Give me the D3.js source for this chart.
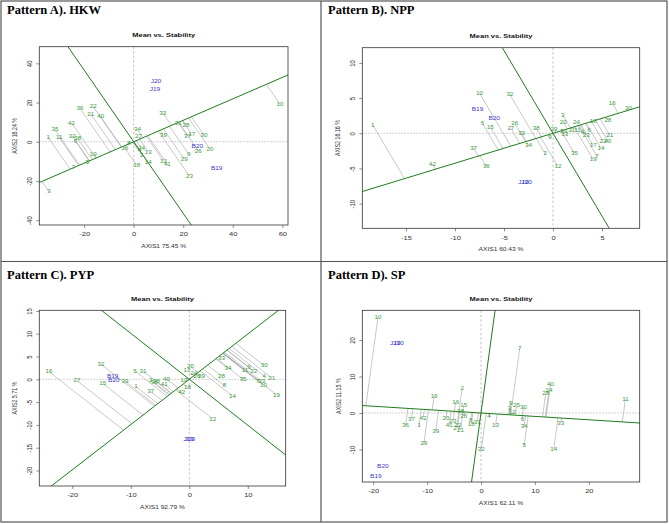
<!DOCTYPE html>
<html><head><meta charset="utf-8">
<script src="https://cdn.jsdelivr.net/npm/d3@7"></script>
<style>body{margin:0;background:#fff}svg{display:block}</style>
</head><body>
<svg id="c" width="669" height="524"></svg>
<script>
// ---------------- DATA ----------------
const panelTitles = ["Pattern A). HKW", "Pattern B). NPP", "Pattern C). PYP", "Pattern D). SP"];
const plotTitle = "Mean vs. Stability";
const xAxisTitles = ["AXIS1 75.45 %", "AXIS1 60.43 %", "AXIS1 92.79 %", "AXIS1 62.11 %"];
const yAxisTitles = ["AXIS2 16.24 %", "AXIS2 16.16 %", "AXIS2 5.71 %", "AXIS2 11.15 %"];

// Pattern A (HKW)
const hkwXTicks = [-20, 0, 20, 40, 60];
const hkwYTicks = [-40, -20, 0, 20, 40];
const hkwEnvLabels = ["J20", "J19", "B20", "B19"];
const hkwEnvX = [9.0, 8.6, 25.7, 33.5];
const hkwEnvY = [31.0, 26.7, -2.2, -13.5];
const hkwGenLabels = ["36","22","21","40","42","35","11","1","32","38","19","7","5","3","16","8","34","27","39","33","28","31","37","17","30","26","20","9","29","23","12","41","10","18","14","24","13","2","4","6"];
const hkwGenX = [-21.7,-16.3,-17.3,-13.3,-25.1,-31.8,-30.1,-34.5,-24.8,-22.6,-16.3,-24.4,-18.7,-34.2,-3.6,-1.9,1.5,1.9,12.0,11.7,21.1,18.0,21.7,23.4,28.4,26.1,30.8,22.2,20.4,22.5,12.0,13.6,59.1,1.2,5.9,3.2,5.9,3.2,2.3,-23.5];
const hkwGenY = [17.0,17.9,14.1,12.8,9.7,6.3,2.2,2.2,2.9,1.7,-6.3,-13.1,-10.7,-25.5,-3.4,-0.5,6.3,2.6,3.4,14.8,8.5,9.7,2.9,3.9,3.4,-4.6,-3.7,-6.3,-8.8,-17.5,-9.8,-11.4,19.1,-11.9,-10.7,-3.4,-5.1,-6.8,-4.5,0.4];

// Pattern B (NPP)
const nppXTicks = [-15, -10, -5, 0, 5];
const nppYTicks = [-10, -5, 0, 5, 10];
const nppEnvLabels = ["B19", "B20", "J19", "J20"];
const nppEnvX = [-7.7, -6.0, -3.0, -2.7];
const nppEnvY = [3.45, 2.1, -6.9, -6.9];
const nppGenLabels = ["1","10","32","5","15","26","27","33","38","34","2","12","37","42","36","29","39","9","3","20","24","31","11","13","4","6","18","28","16","30","21","22","40","17","14","7","19","35","23"];
const nppGenX = [-18.4,-7.5,-4.4,-7.2,-6.4,-3.9,-4.3,-3.2,-1.7,-2.5,-0.8,0.5,-8.1,-12.3,-6.8,0.1,1.1,-0.3,1.0,1.05,2.4,1.9,2.5,1.2,3.0,3.7,4.1,5.6,6.05,7.7,5.8,5.1,5.6,4.1,4.9,4.5,4.1,2.2,3.4];
const nppGenY = [1.2,5.7,5.5,1.4,0.9,1.4,0.7,0.0,0.7,-1.7,-2.9,-4.7,-2.1,-4.4,-4.7,0.6,0.3,-0.6,2.6,1.56,1.56,0.5,0.4,-0.2,0.1,0.5,1.65,1.9,4.26,3.55,-0.3,-1.1,-1.1,-1.7,-2.1,-3.3,-3.7,-2.9,-0.3];

// Pattern C (PYP)
const pypXTicks = [-20, -10, 0, 10];
const pypYTicks = [-20, -15, -10, -5, 0, 5, 10, 15];
const pypEnvLabels = ["B19", "B20", "J19", "J20"];
const pypEnvX = [-13.1, -12.9, -0.1, 0.1];
const pypEnvY = [0.7, -0.2, -13.1, -13.2];
const pypGenLabels = ["16","27","32","15","39","5","31","1","37","36","2","38","41","40","42","18","13","20","17","24","26","29","28","8","14","12","33","34","35","11","9","22","30","4","21","7","23","10","19"];
const pypGenX = [-24.0,-19.2,-15.1,-14.8,-11.0,-9.3,-7.9,-9.1,-6.6,-6.0,-6.6,-5.6,-4.3,-3.9,-1.3,-0.3,-0.9,0.2,-0.4,0.8,1.3,2.1,5.5,6.0,7.4,4.0,5.5,6.6,9.2,9.5,10.2,11.0,12.8,12.8,14.1,11.7,12.4,12.7,14.9];
const pypGenY = [1.7,-0.3,3.3,-0.9,-0.4,1.8,1.8,-1.6,-2.7,-0.7,-0.3,-0.5,-1.1,0.1,-2.9,-1.8,-0.2,2.8,2.0,1.3,0.7,0.6,0.7,-1.4,-3.7,-8.7,4.7,2.4,0.0,2.0,2.6,1.8,3.0,0.7,0.3,-0.4,-0.5,-1.2,-3.4];

// Pattern D (SP)
const spXTicks = [-20, -10, 0, 10, 20];
const spYTicks = [-10, 0, 10, 20];
const spEnvLabels = ["J19", "J20", "B20", "B19"];
const spEnvX = [-15.9, -15.3, -18.2, -19.5];
const spEnvY = [19.2, 19.0, -14.5, -17.3];
const spGenLabels = ["10","7","2","40","24","28","11","19","16","15","38","26","9","25","30","12","3","6","34","5","33","14","13","4","32","8","18","31","20","23","41","22","27","21","39","29","42","1","37","36"];
const spGenX = [-19.1,7.2,-3.5,12.9,12.6,12.0,26.8,-8.7,-4.7,-3.2,-3.8,-3.2,5.5,6.6,7.9,5.8,5.3,7.7,8.0,8.0,14.8,13.5,2.7,1.5,0.06,-1.9,-1.8,-0.7,-6.5,-5.2,-5.9,-4.3,-4.5,-3.8,-8.4,-10.6,-10.7,-11.5,-12.9,-14.0];
const spGenY = [26.3,17.8,6.8,7.8,6.2,5.3,3.9,4.6,3.0,2.1,0.5,-0.9,2.8,2.1,1.6,0.3,1.4,-1.6,-3.6,-8.9,-2.7,-9.9,-3.4,-0.9,-9.9,-2.0,-3.1,-2.5,-1.4,-2.2,-3.4,-3.4,-4.1,-4.7,-5.0,-8.4,-1.3,-3.4,-1.6,-3.4];

// ---------------- LAYOUT ----------------
const panels = [
  {title: panelTitles[0], tx: 7, ty: 14, box: [39.3, 46.7, 288, 225], xd: [-38.1, 62.3], yd: [-42.5, 48.5],
   xt: hkwXTicks, yt: hkwYTicks, el: hkwEnvLabels, ex: hkwEnvX, ey: hkwEnvY, gl: hkwGenLabels, gx: hkwGenX, gy: hkwGenY,
   xlab: xAxisTitles[0], ylab: yAxisTitles[0], ylabX: 15},
  {title: panelTitles[1], tx: 328, ty: 14, box: [362.3, 47.7, 639.7, 228.3], xd: [-19.46, 8.85], yd: [-13.5, 12.16],
   xt: nppXTicks, yt: nppYTicks, el: nppEnvLabels, ex: nppEnvX, ey: nppEnvY, gl: nppGenLabels, gx: nppGenX, gy: nppGenY,
   xlab: xAxisTitles[1], ylab: yAxisTitles[1], ylabX: 338},
  {title: panelTitles[2], tx: 7, ty: 278.5, box: [39.3, 310.3, 285.7, 486], xd: [-25.64, 16.48], yd: [-23.4, 15.13],
   xt: pypXTicks, yt: pypYTicks, el: pypEnvLabels, ex: pypEnvX, ey: pypEnvY, gl: pypGenLabels, gx: pypGenX, gy: pypGenY,
   xlab: xAxisTitles[2], ylab: yAxisTitles[2], ylabX: 15},
  {title: panelTitles[3], tx: 328, ty: 278.5, box: [362.3, 310.3, 639.7, 482], xd: [-22.02, 29.44], yd: [-18.9, 28.14],
   xt: spXTicks, yt: spYTicks, el: spEnvLabels, ex: spEnvX, ey: spEnvY, gl: spGenLabels, gx: spGenX, gy: spGenY,
   xlab: xAxisTitles[3], ylab: yAxisTitles[3], ylabX: 339}
];

const SX = 1.25;                 // horizontal stretch of the source picture
const SANS = "'Liberation Sans', Arial, sans-serif";
const SERIF = "'Liberation Serif', 'Times New Roman', serif";
const GEN_COL = "#3d9a3d", ENV_COL = "#3a3ac8", LINE_COL = "#1d7d1d", PROJ_COL = "#9a9a9a";

const svg = d3.select("#c");
svg.append("rect").attr("width", 669).attr("height", 524).attr("fill", "#fff");

// frame
const frame = svg.append("g").attr("stroke", "#555").attr("stroke-width", 1.2).attr("fill", "none");
frame.append("rect").attr("x", 1).attr("y", 1).attr("width", 666).attr("height", 521);
frame.append("line").attr("x1", 321).attr("x2", 321).attr("y1", 1).attr("y2", 522);
frame.append("line").attr("x1", 1).attr("x2", 667).attr("y1", 261.5).attr("y2", 261.5);

function stext(g, x, y, s, size, fill, weight, anchor) {
  return g.append("text")
    .attr("transform", `translate(${x},${y}) scale(${SX},1)`)
    .attr("text-anchor", anchor || "middle")
    .attr("font-family", SANS).attr("font-size", size)
    .attr("font-weight", weight || "normal")
    .attr("fill", fill).text(s);
}

panels.forEach((p, i) => {
  const [x0, y0, x1, y1] = p.box;
  const g = svg.append("g");
  const xs = d3.scaleLinear().domain(p.xd).range([x0, x1]);
  const ys = d3.scaleLinear().domain(p.yd).range([y1, y0]);

  // panel title
  g.append("text").attr("x", p.tx).attr("y", p.ty)
    .attr("font-family", SERIF).attr("font-weight", "bold").attr("font-size", 12.5)
    .attr("fill", "#000").text(p.title);

  // plot title
  stext(g, (x0 + x1) / 2, y0 - 9.5, plotTitle, 6, "#111", "bold");

  // clip
  const cid = "clip" + i;
  svg.append("clipPath").attr("id", cid).append("rect")
    .attr("x", x0).attr("y", y0).attr("width", x1 - x0).attr("height", y1 - y0);
  const pg = g.append("g").attr("clip-path", `url(#${cid})`);

  // zero reference lines
  pg.append("line").attr("x1", xs(0)).attr("x2", xs(0)).attr("y1", y0).attr("y2", y1)
    .attr("stroke", "#aaa").attr("stroke-width", 0.7).attr("stroke-dasharray", "2.5,2");
  pg.append("line").attr("x1", x0).attr("x2", x1).attr("y1", ys(0)).attr("y2", ys(0))
    .attr("stroke", "#aaa").attr("stroke-width", 0.7).attr("stroke-dasharray", "1.5,1.5");

  // average environment axis
  const mx = d3.mean(p.ex), my = d3.mean(p.ey);
  const len = Math.hypot(mx, my), ux = mx / len, uy = my / len;
  const L = 500;

  // projections of genotypes onto ATC abscissa
  p.gl.forEach((lab, k) => {
    const t = p.gx[k] * ux + p.gy[k] * uy;
    pg.append("line")
      .attr("x1", xs(p.gx[k])).attr("y1", ys(p.gy[k]))
      .attr("x2", xs(t * ux)).attr("y2", ys(t * uy))
      .attr("stroke", PROJ_COL).attr("stroke-width", 0.55);
  });

  // ATC abscissa and ordinate
  pg.append("line").attr("x1", xs(-L * ux)).attr("y1", ys(-L * uy)).attr("x2", xs(L * ux)).attr("y2", ys(L * uy))
    .attr("stroke", LINE_COL).attr("stroke-width", 1);
  pg.append("line").attr("x1", xs(L * uy)).attr("y1", ys(-L * ux)).attr("x2", xs(-L * uy)).attr("y2", ys(L * ux))
    .attr("stroke", LINE_COL).attr("stroke-width", 1);

  // genotype labels
  p.gl.forEach((lab, k) => {
    stext(pg, xs(p.gx[k]), ys(p.gy[k]) + 1.8, lab, 5, GEN_COL);
  });
  // environment labels
  p.el.forEach((lab, k) => {
    stext(pg, xs(p.ex[k]), ys(p.ey[k]) + 1.8, lab, 5.2, ENV_COL);
  });

  // box
  g.append("rect").attr("x", x0).attr("y", y0).attr("width", x1 - x0).attr("height", y1 - y0)
    .attr("fill", "none").attr("stroke", "#333").attr("stroke-width", 0.8);

  // axes
  const ax = g.append("g").attr("transform", `translate(0,${y1})`)
    .call(d3.axisBottom(xs).tickValues(p.xt).tickSize(3).tickSizeOuter(0).tickPadding(4).tickFormat(d => d));
  ax.select(".domain").remove();
  ax.selectAll("line").attr("stroke", "#444").attr("stroke-width", 0.6);
  ax.selectAll("text").attr("font-family", SANS).attr("font-size", 6).attr("fill", "#333")
    .attr("transform", `scale(${SX},1)`);

  const ay = g.append("g").attr("transform", `translate(${x0},0)`)
    .call(d3.axisLeft(ys).tickValues(p.yt).tickSize(3).tickSizeOuter(0).tickFormat(d => d));
  ay.select(".domain").remove();
  ay.selectAll("line").attr("stroke", "#444").attr("stroke-width", 0.6);
  ay.selectAll("text").attr("font-family", SANS).attr("font-size", 6).attr("fill", "#333")
    .attr("x", 0).attr("dy", null).attr("y", -7.8 / SX).attr("text-anchor", "middle")
    .attr("transform", `rotate(-90) scale(1,${SX})`);

  // axis titles
  stext(g, (x0 + x1) / 2, y1 + 23, p.xlab, 5.3, "#333");
  g.append("text")
    .attr("transform", `translate(${p.ylabX + 2},${(y0 + y1) / 2}) rotate(-90) scale(1,${SX})`)
    .attr("text-anchor", "middle").attr("font-family", SANS).attr("font-size", 5.3)
    .attr("fill", "#333").text(p.ylab);
});
</script>
</body></html>
